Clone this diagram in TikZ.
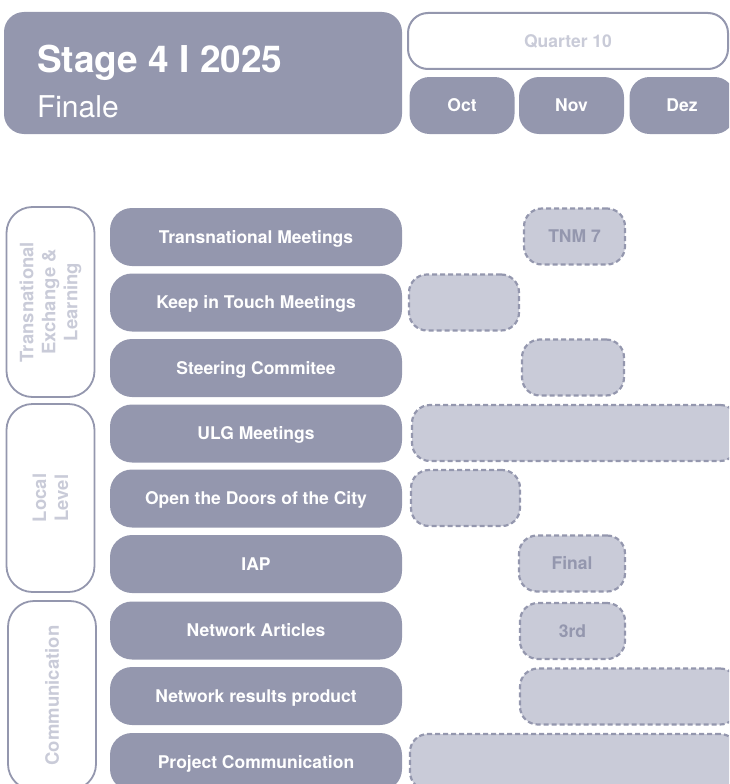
\documentclass[tikz,border=0pt]{standalone}
\usepackage{fontspec}
\setmainfont{TeX Gyre Heros}
\usetikzlibrary{positioning}
\definecolor{slate}{HTML}{9497AE}
\definecolor{mist}{HTML}{C9CBD8}

\begin{document}
\begin{tikzpicture}[
  x=1pt, y=-1pt,
  every node/.style={font=\bfseries\fontsize{17.5}{21}\selectfont, inner sep=0pt, outer sep=0pt},
  boxtext/.style={text height=12.5pt, text depth=0pt},
  headbox/.style={rectangle, rounded corners=20pt, fill=slate, minimum width=398pt, minimum height=122pt},
  quarter/.style={rectangle, boxtext, rounded corners=20pt, draw=slate, line width=2pt, fill=white, text=mist, minimum width=320pt, minimum height=56pt},
  month/.style={rectangle, boxtext, rounded corners=20pt, fill=slate, text=white, minimum width=105pt, minimum height=57pt},
  activity/.style={rectangle, boxtext, rounded corners=22pt, fill=slate, text=white, minimum width=292pt, minimum height=58pt},
  group/.style={rectangle, rotate=90, rounded corners=26pt, draw=slate, line width=1.8pt, minimum height=88pt, text=mist, align=center, font=\bfseries\fontsize{18.5}{22}\selectfont},
  plan/.style={rectangle, boxtext, rounded corners=18pt, fill=mist, draw=slate, line width=2.2pt, dash pattern=on 5pt off 3pt, text=slate, minimum height=56pt}
]
\useasboundingbox (0,0) rectangle (729,784);
\clip (0,0) rectangle (729,784);

\node[headbox] (stage) at (203,73) {};
\node[anchor=base west, text=white, font=\bfseries\fontsize{37}{40}\selectfont] (stagetitle) at (37,72) {Stage 4 I 2025};
\node[anchor=base west, text=white, font=\fontsize{30}{34}\selectfont] (stagesub) at (37,117) {Finale};

\node[quarter] (q10) at (568,41) {Quarter 10};
\node[month] (oct) at (462,105.5) {Oct};
\node[month] (nov) at (571.5,105.5) {Nov};
\node[month] (dez) at (682,105.5) {Dez};

\node[group, minimum width=190pt] (gexchange) at (50.5,302) {Transnational\\Exchange \&\\Learning};
\node[group, minimum width=188pt] (glocal) at (50.5,498) {Local\\Level};
\node[group, minimum width=189pt] (gcomm) at (52,695.5) {Communication};

\node[activity] (tm) at (256,237) {Transnational Meetings};
\node[activity] (kit) at (256,302.5) {Keep in Touch Meetings};
\node[activity] (sc) at (256,368) {Steering Commitee};
\node[activity] (ulg) at (256,433.5) {ULG Meetings};
\node[activity] (otd) at (256,498.5) {Open the Doors of the City};
\node[activity] (iap) at (256,564) {IAP};
\node[activity] (na) at (256,630.5) {Network Articles};
\node[activity] (nrp) at (256,696) {Network results product};
\node[activity] (pc) at (256,762) {Project Communication};

\node[plan, minimum width=101pt] (tmplan) at (574.5,236.5) {TNM 7};
\node[plan, minimum width=110pt] (kitplan) at (464,302.5) {};
\node[plan, minimum width=102pt] (scplan) at (573,367.5) {};
\node[plan, minimum width=326pt] (ulgplan) at (575,433) {};
\node[plan, minimum width=109pt] (otdplan) at (465.5,498) {};
\node[plan, minimum width=106pt] (iapplan) at (572,563.5) {Final};
\node[plan, minimum width=105pt] (naplan) at (572.5,631) {3rd};
\node[plan, minimum width=218pt] (nrpplan) at (629,696.5) {};
\node[plan, minimum width=328pt] (pcplan) at (574,762) {};
\end{tikzpicture}
\end{document}
